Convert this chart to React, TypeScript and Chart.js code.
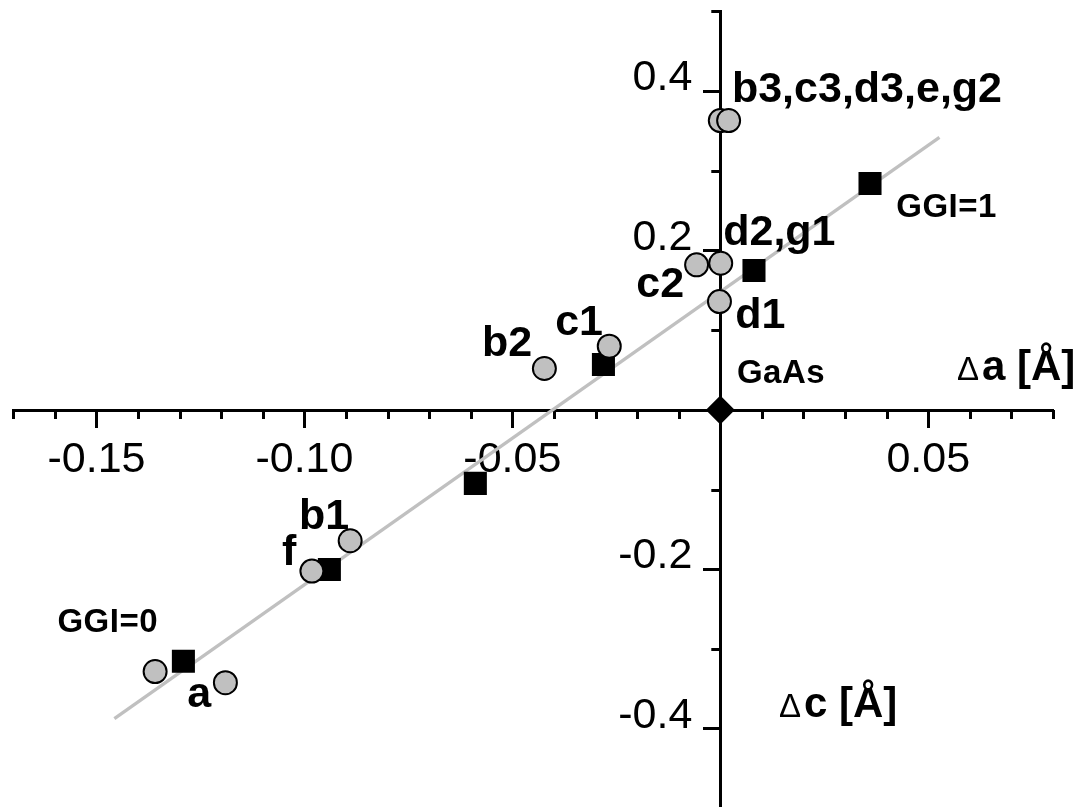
import React, { useEffect, useRef } from 'react';
import { Chart, registerables } from 'chart.js';

Chart.register(...registerables);

// ---- data ----
const circleX = [0.0, 0.002, -0.0057, 0.0001, -0.0002, -0.0267, -0.0423, -0.089, -0.0982, -0.1359, -0.119];
const circleY = [0.363, 0.363, 0.182, 0.184, 0.136, 0.08, 0.052, -0.164, -0.202, -0.328, -0.342];

const squareX = [0.036, 0.0081, -0.0281, -0.0589, -0.094, -0.1291];
const squareY = [0.284, 0.175, 0.057, -0.092, -0.2, -0.315];

const gaasX = [0];
const gaasY = [0];

const fitX = [-0.1457, 0.0527];
const fitY = [-0.387, 0.342];

const pointLabels = ['b3,c3,d3,e,g2', 'GGI=1', 'd2,g1', 'c2', 'd1', 'c1', 'b2', 'GaAs', 'b1', 'f', 'GGI=0', 'a'];
const pointLabelX = [0.0028, 0.0423, 0.0007, -0.0202, 0.0036, -0.0397, -0.0573, 0.004, -0.1013, -0.1054, -0.1594, -0.1282];
const pointLabelY = [0.3864, 0.2422, 0.207, 0.1418, 0.1029, 0.0941, 0.0678, 0.0339, -0.1493, -0.1945, -0.2786, -0.3726];
const pointLabelSmall = [false, true, false, false, false, false, false, true, false, false, true, false];

const axisTitleSymbols = ['\u0394', '\u0394'];
const axisTitleTexts = ['a [\u00C5]', 'c [\u00C5]'];
const axisTitleX = [0.0569, 0.0141];
const axisTitleY = [0.0376, -0.3852];

const xTickValues = [-0.15, -0.1, -0.05, 0.05];
const xTickLabels = ['-0.15', '-0.10', '-0.05', '0.05'];
const yTickValues = [-0.4, -0.2, 0.2, 0.4];
const yTickLabels = ['-0.4', '-0.2', '0.2', '0.4'];

const FONT = '"Liberation Sans", Arial, Helvetica, sans-serif';

function findIndex(values: number[], v: number) {
  return values.findIndex((t) => Math.abs(t - v) < 1e-6);
}

const annotationPlugin = {
  id: 'annotations',
  beforeDatasetsDraw(chart: any) {
    const { ctx } = chart;
    const xs = chart.scales.x;
    const ys = chart.scales.y;
    const x0 = xs.getPixelForValue(0);
    const y0 = ys.getPixelForValue(0);
    ctx.save();
    ctx.strokeStyle = '#000';
    ctx.lineWidth = 3;
    ctx.beginPath();
    xs.ticks.forEach((t: any) => {
      if (findIndex(xTickValues, t.value) >= 0 || Math.abs(t.value) < 1e-9) return;
      const px = Math.round(xs.getPixelForValue(t.value)) + 0.5;
      ctx.moveTo(px, y0);
      ctx.lineTo(px, y0 + 9);
    });
    ys.ticks.forEach((t: any) => {
      if (findIndex(yTickValues, t.value) >= 0 || Math.abs(t.value) < 1e-9) return;
      const py = Math.round(ys.getPixelForValue(t.value)) + 0.5;
      ctx.moveTo(x0 - 9, py);
      ctx.lineTo(x0, py);
    });
    ctx.stroke();

    // tick labels
    ctx.fillStyle = '#000';
    ctx.font = `43px ${FONT}`;
    ctx.textBaseline = 'alphabetic';
    ctx.textAlign = 'center';
    xTickValues.forEach((v, i) => {
      ctx.fillText(xTickLabels[i], xs.getPixelForValue(v), y0 + 62);
    });
    ctx.textAlign = 'right';
    yTickValues.forEach((v, i) => {
      ctx.fillText(yTickLabels[i], x0 - 28, ys.getPixelForValue(v) - 1);
    });
    ctx.restore();
  },
  afterDatasetsDraw(chart: any) {
    const { ctx } = chart;
    const xs = chart.scales.x;
    const ys = chart.scales.y;
    ctx.save();
    ctx.fillStyle = '#000';
    ctx.textAlign = 'left';
    ctx.textBaseline = 'alphabetic';
    pointLabels.forEach((txt, i) => {
      if (pointLabelSmall[i]) {
        ctx.font = `bold 33px ${FONT}`;
        (ctx as any).letterSpacing = '0.5px';
      } else {
        ctx.font = `bold 43px ${FONT}`;
        (ctx as any).letterSpacing = '0px';
      }
      ctx.fillText(txt, xs.getPixelForValue(pointLabelX[i]), ys.getPixelForValue(pointLabelY[i]));
    });
    (ctx as any).letterSpacing = '0px';
    axisTitleTexts.forEach((txt, i) => {
      const px = xs.getPixelForValue(axisTitleX[i]);
      const py = ys.getPixelForValue(axisTitleY[i]);
      ctx.font = `33px ${FONT}`;
      ctx.fillText(axisTitleSymbols[i], px, py);
      ctx.font = `bold 42px ${FONT}`;
      ctx.fillText(txt, px + 25, py);
    });
    ctx.restore();
  },
};

export default function App() {
  const canvasRef = useRef<HTMLCanvasElement | null>(null);

  useEffect(() => {
    if (!canvasRef.current) return;
    const chart = new Chart(canvasRef.current, {
      type: 'scatter',
      data: {
        datasets: [
          {
            label: 'samples',
            data: circleX.map((x, i) => ({ x, y: circleY[i] })),
            pointStyle: 'circle',
            pointRadius: 11.5,
            pointBackgroundColor: '#c0c0c0',
            pointBorderColor: '#000',
            pointBorderWidth: 2,
            order: 0,
          },
          {
            label: 'GaAs',
            data: gaasX.map((x, i) => ({ x, y: gaasY[i] })),
            pointStyle: 'rectRot',
            pointRadius: 14.5,
            pointBackgroundColor: '#000',
            pointBorderColor: '#000',
            pointBorderWidth: 0,
            order: 1,
          },
          {
            label: 'GGI',
            data: squareX.map((x, i) => ({ x, y: squareY[i] })),
            pointStyle: 'rect',
            pointRadius: 16.3,
            pointBackgroundColor: '#000',
            pointBorderColor: '#000',
            pointBorderWidth: 0,
            order: 2,
          },
          {
            label: 'fit',
            data: fitX.map((x, i) => ({ x, y: fitY[i] })),
            showLine: true,
            borderColor: '#c0c0c0',
            borderWidth: 3.3,
            pointRadius: 0,
            order: 3,
          },
        ],
      },
      options: {
        animation: false,
        responsive: false,
        devicePixelRatio: 1,
        layout: { padding: { left: 11, right: 29, top: 6, bottom: 3 } },
        plugins: {
          legend: { display: false },
          tooltip: { enabled: false },
        },
        scales: {
          x: {
            type: 'linear',
            min: -0.17,
            max: 0.08,
            position: { y: 0 },
            border: { display: true, color: '#000', width: 3 },
            grid: {
              drawOnChartArea: false,
              drawTicks: true,
              tickLength: 16,
              tickWidth: 3,
              tickColor: (c: any) => (findIndex(xTickValues, c.tick.value) >= 0 ? '#000' : 'rgba(0,0,0,0)'),
            },
            ticks: {
              display: false,
              stepSize: 0.01,
              autoSkip: false,
              maxRotation: 0,
              minRotation: 0,
            },
          },
          y: {
            type: 'linear',
            min: -0.5,
            max: 0.5,
            position: { x: 0 },
            border: { display: true, color: '#000', width: 3 },
            grid: {
              drawOnChartArea: false,
              drawTicks: true,
              tickLength: 16,
              tickWidth: 3,
              tickColor: (c: any) => (findIndex(yTickValues, c.tick.value) >= 0 ? '#000' : 'rgba(0,0,0,0)'),
            },
            ticks: {
              display: false,
              stepSize: 0.1,
              autoSkip: false,
            },
          },
        },
      },
      plugins: [annotationPlugin],
    } as any);
    return () => chart.destroy();
  }, []);

  return (
    <div style={{ position: 'fixed', left: 0, top: 0, width: 1082, height: 807, overflow: 'hidden', background: '#fff' }}>
      <canvas
        ref={canvasRef}
        width={1085}
        height={830}
        style={{ display: 'block', position: 'absolute', left: -3, top: -5 }}
      />
    </div>
  );
}
